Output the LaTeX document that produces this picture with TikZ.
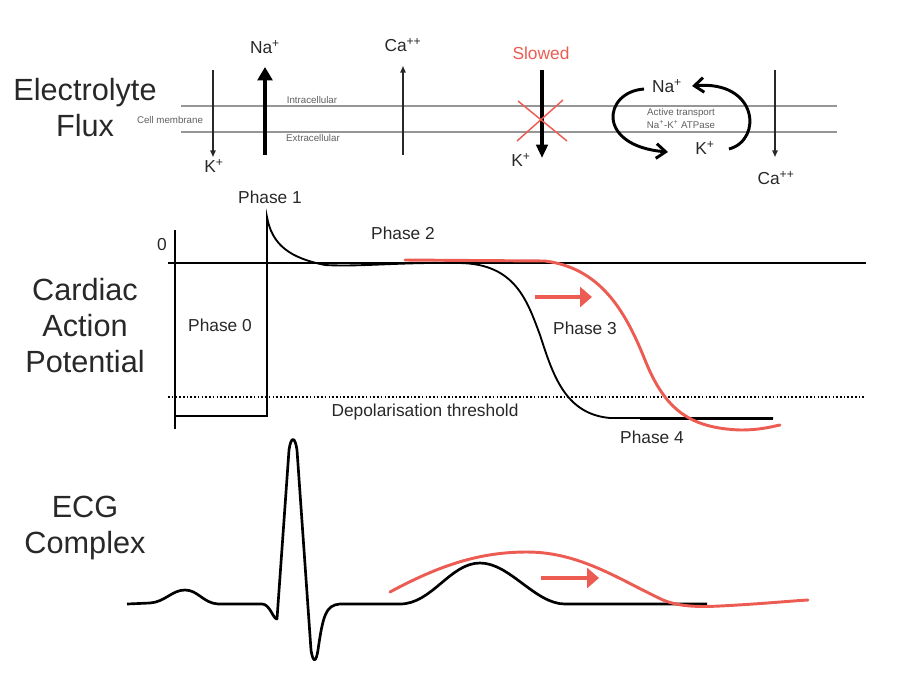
\documentclass[tikz,border=0pt]{standalone}
\usepackage{fontspec}
\setmainfont{Liberation Sans}
\usetikzlibrary{arrows.meta}
\definecolor{redc}{RGB}{236,92,82}
\definecolor{txt}{RGB}{40,40,40}
\definecolor{memb}{RGB}{150,150,150}
\definecolor{smalltxt}{RGB}{95,95,95}
\begin{document}
\begin{tikzpicture}[x=0.75pt,y=-0.75pt,
  big/.style={font=\fontsize{23}{27}\selectfont, align=center, text=txt, inner sep=0pt},
  lab/.style={font=\fontsize{13}{15}\selectfont, text=txt, inner sep=0pt},
  tinytxt/.style={font=\fontsize{7.3}{9}\selectfont, text=smalltxt, inner sep=0pt, align=center},
  membline/.style={draw=memb, line width=0.8pt},
  thinarr/.style={draw=txt, line width=1.1pt, -{Triangle[length=5pt,width=4pt]}},
  thickarr/.style={draw=black, line width=3.6pt, -{Triangle[length=10pt,width=11pt]}},
  slowarr/.style={draw=black, line width=3pt, -{Triangle[length=10pt,width=8.5pt]}},
  pumparr/.style={draw=black, line width=2.2pt, -{Straight Barb[length=7pt,width=11pt]}},
  apline/.style={draw=black, line width=1.4pt},
  ecgline/.style={draw=black, line width=2pt, line join=round},
  redline/.style={draw=redc, line width=2.2pt, line cap=round},
  redarr/.style={draw=redc, line width=3pt, -{Triangle[length=9pt,width=15pt]}},
]
\useasboundingbox (0,0) rectangle (900,693);

% ---------- left titles ----------
\node[big] (t1) at (85,108) {Electrolyte\\Flux};
\node[big] (t2) at (85,326) {Cardiac\\Action\\Potential};
\node[big] (t3) at (85,528) {ECG\\Complex};

% ---------- electrolyte flux ----------
\coordinate (ml1) at (181,106); \coordinate (mr1) at (837,106);
\coordinate (ml2) at (181,132); \coordinate (mr2) at (837,132);
\draw[membline] (ml1) -- (mr1);
\draw[membline] (ml2) -- (mr2);
\node[tinytxt] (cm) at (170,120) {Cell membrane};
\node[tinytxt] (ic) at (312,100) {Intracellular};
\node[tinytxt] (ec) at (313,138) {Extracellular};

% K+ out (thin)
\node[lab] (k1) at (214,166) {K\textsuperscript{+}};
\coordinate (k1s) at (213,70);
\draw[thinarr] (k1s) -- (213,157);
% Na+ in (thick)
\node[lab] (na1) at (265,47) {Na\textsuperscript{+}};
\coordinate (na1s) at (265,155);
\draw[thickarr] (na1s) -- (265,67);
% Ca++ in (thin)
\node[lab] (ca1) at (403,45) {Ca\textsuperscript{++}};
\coordinate (ca1s) at (403,155);
\draw[thinarr] (ca1s) -- (403,66);
% slowed K+
\node[lab, text=redc] (sl) at (541,53) {Slowed};
\node[lab] (k2) at (521,160) {K\textsuperscript{+}};
\coordinate (k2s) at (542,70);
\draw[slowarr] (k2s) -- (542,158);
\draw[draw=redc, line width=1.1pt] (518,101) -- (567,141);
\draw[draw=redc, line width=1.1pt] (563,100) -- (517,141);
% pump
\node[lab] (na2) at (667,86) {Na\textsuperscript{+}};
\node[lab] (k3) at (705,148) {K\textsuperscript{+}};
\node[tinytxt] (at) at (681,113) {Active transport};
\node[tinytxt] (atp) at (681,125) {Na\textsuperscript{+}-K\textsuperscript{+} ATPase};
\draw[pumparr] (644,89) .. controls (603,92) and (596,146) .. (668,152);
\draw[pumparr] (729,149) .. controls (763,140) and (758,80) .. (692,86);
% Ca++ out (thin)
\node[lab] (ca2) at (776,178) {Ca\textsuperscript{++}};
\coordinate (ca2s) at (775,70);
\draw[thinarr] (ca2s) -- (775,157);

% ---------- action potential ----------
\node[lab] (p1) at (270,197) {Phase 1};
\node[lab] (zero) at (162,245) {0};
\node[lab] (p2) at (403,233) {Phase 2};
\node[lab] (p0) at (220,325) {Phase 0};
\node[lab] (p3) at (585,328) {Phase 3};
\node[lab] (p4) at (652,437) {Phase 4};
\node[lab] (dt) at (425,412) {Depolarisation threshold};

\draw[apline] (175,230) -- (175,429);
\draw[apline] (168,263) -- (866,263);
\draw[draw=black, line width=1.1pt, dash pattern=on 1.2pt off 1.6pt] (168,397) -- (866,397);
\draw[apline] (175,416) -- (267,416) -- (267,217)
  .. controls (272,245) and (290,258) .. (325,265)
  .. controls (360,267) and (400,262) .. (460,263)
  .. controls (515,264) and (527,300) .. (540,335)
  .. controls (553,375) and (565,414) .. (610,418) -- (773,418);
\draw[draw=black, line width=1.9pt] (640,419) -- (773,419);
% red shifted repolarisation
\draw[redline] (405,260) -- (545,261)
  .. controls (600,268) and (625,310) .. (645,360)
  .. controls (665,410) and (690,428) .. (740,430)
  .. controls (760,430) and (770,427) .. (780,425);
\draw[redarr] (535,297) -- (592,297);

% ---------- ECG ----------
\draw[ecgline] (127,604) -- (150,603)
  .. controls (165,602) and (172,590) .. (185,590)
  .. controls (198,590) and (203,603) .. (218,604) -- (262,604)
  .. controls (270,604) and (273,619) .. (277,619)
  -- (289,450) .. controls (291,436) and (295,436) .. (297,450)
  -- (311,650) .. controls (313,663) and (316,663) .. (318,650)
  .. controls (323,615) and (326,605) .. (340,604) -- (400,604)
  .. controls (432,604) and (450,563) .. (480,563)
  .. controls (510,563) and (535,604) .. (565,604) -- (707,604);
\draw[redline] (390,592) .. controls (440,565) and (480,552) .. (527,552)
  .. controls (580,552) and (620,580) .. (663,600)
  .. controls (680,607) and (700,607) .. (720,606)
  .. controls (760,604) and (790,601) .. (808,600);
\draw[redarr] (541,578) -- (599,578);
\end{tikzpicture}
\end{document}
